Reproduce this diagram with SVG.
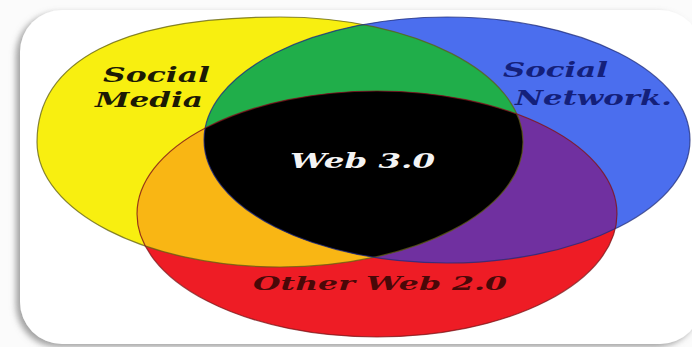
<svg xmlns="http://www.w3.org/2000/svg" width="692" height="347" viewBox="0 0 692 347">
  <defs>
    <filter id="shadow" x="-10%" y="-10%" width="120%" height="120%">
      <feDropShadow dx="-4" dy="3" stdDeviation="3" flood-color="#7a7a7a" flood-opacity="0.7"/>
    </filter>
    <clipPath id="clipY"><path d="M 37 142 C 37 60.75 122 17 280 17 C 414.2 17 523 73 523 142 C 523 211 414.2 267 280 267 C 145.8 267 37 211 37 142 Z"/></clipPath>
    <clipPath id="clipB"><ellipse cx="447" cy="140" rx="243" ry="123"/></clipPath>
  </defs>
  <style>
    .lbl { font-family: "DejaVu Serif", "Liberation Serif", serif; font-weight: bold; font-style: italic; }
    .edge { fill: none; stroke-width: 1.2; stroke-opacity: 0.75; }
  </style>
  <rect x="0" y="0" width="692" height="347" fill="#fbfbfb"/>
  <rect id="frame" x="20" y="10" width="682" height="334" rx="42" ry="42" fill="#ffffff" filter="url(#shadow)"/>

  <g id="social-media">
    <path d="M 37 142 C 37 60.75 122 17 280 17 C 414.2 17 523 73 523 142 C 523 211 414.2 267 280 267 C 145.8 267 37 211 37 142 Z" fill="#f8ef10"/>
  </g>
  <g id="social-network">
    <ellipse cx="447" cy="140" rx="243" ry="123" fill="#4b6eee"/>
  </g>
  <g id="other-web20">
    <ellipse cx="377" cy="214" rx="240" ry="123" fill="#ee1c25"/>
  </g>
  <g id="overlap-media-network" clip-path="url(#clipY)">
    <ellipse cx="447" cy="140" rx="243" ry="123" fill="#20ae4a"/>
  </g>
  <g id="overlap-media-other" clip-path="url(#clipY)">
    <ellipse cx="377" cy="214" rx="240" ry="123" fill="#f9b614"/>
  </g>
  <g id="overlap-network-other" clip-path="url(#clipB)">
    <ellipse cx="377" cy="214" rx="240" ry="123" fill="#7030a0"/>
  </g>
  <g id="web30">
    <g clip-path="url(#clipY)">
      <g clip-path="url(#clipB)">
        <ellipse cx="377" cy="214" rx="240" ry="123" fill="#000000"/>
      </g>
    </g>
  </g>
  <g id="outlines">
    <path class="edge" d="M 37 142 C 37 60.75 122 17 280 17 C 414.2 17 523 73 523 142 C 523 211 414.2 267 280 267 C 145.8 267 37 211 37 142 Z" stroke="#5f5d14"/>
    <ellipse class="edge" cx="447" cy="140" rx="243" ry="123" stroke="#1f2c7a"/>
    <ellipse class="edge" cx="377" cy="214" rx="240" ry="123" stroke="#7a1518"/>
  </g>

  <g id="labels">
    <text class="lbl" x="103" y="82" font-size="20" fill="#1c1a05" textLength="107" lengthAdjust="spacingAndGlyphs">Social</text>
    <text class="lbl" x="95" y="107" font-size="20" fill="#1c1a05" textLength="108" lengthAdjust="spacingAndGlyphs">Media</text>
    <text class="lbl" x="503" y="77" font-size="20" fill="#14207a" textLength="105" lengthAdjust="spacingAndGlyphs">Social</text>
    <text class="lbl" x="515" y="105" font-size="20" fill="#14207a" textLength="157" lengthAdjust="spacingAndGlyphs">Network.</text>
    <text class="lbl" x="290" y="168" font-size="20" fill="#f4f4f4" textLength="145" lengthAdjust="spacingAndGlyphs">Web 3.0</text>
    <text class="lbl" x="253" y="290" font-size="19" fill="#4a0808" textLength="254" lengthAdjust="spacingAndGlyphs">Other Web 2.0</text>
  </g>
</svg>
